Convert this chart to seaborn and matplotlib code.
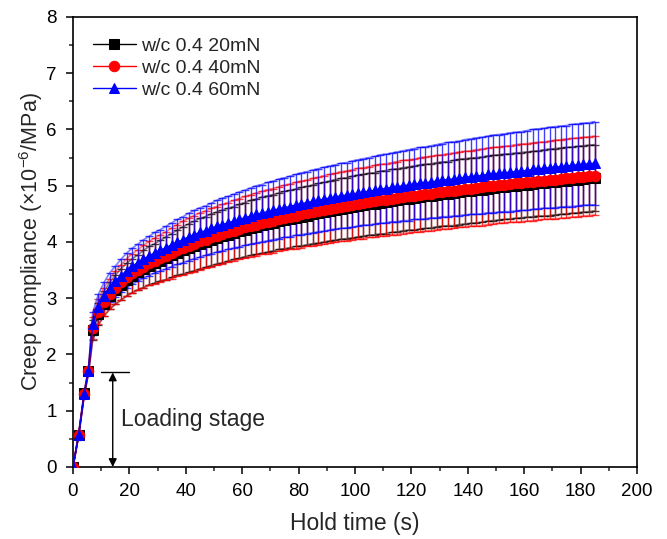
import numpy as np
import pandas as pd
import matplotlib
matplotlib.use("Agg")
import matplotlib.pyplot as plt
import seaborn as sns

# hold time (s)
hold_time = [0, 2, 4, 5.5,
             7, 9, 11, 13, 15, 17, 19, 21, 23, 25, 27, 29, 31, 33, 35, 37, 39, 41,
             43, 45, 47, 49, 51, 53, 55, 57, 59, 61, 63, 65, 67, 69, 71, 73, 75, 77,
             79, 81, 83, 85, 87, 89, 91, 93, 95, 97, 99, 101, 103, 105, 107, 109, 111,
             113, 115, 117, 119, 121, 123, 125, 127, 129, 131, 133, 135, 137, 139, 141,
             143, 145, 147, 149, 151, 153, 155, 157, 159, 161, 163, 165, 167, 169, 171,
             173, 175, 177, 179, 181, 183, 185]

# creep compliance means (x10^-6 /MPa)
mean_20mN = [0.0, 0.57, 1.31, 1.71,
             2.43, 2.72, 2.90, 3.04, 3.15, 3.24, 3.33, 3.40, 3.46, 3.52, 3.58, 3.62, 3.67, 3.71, 3.76, 3.81, 3.85, 3.89,
             3.93, 3.97, 4.00, 4.04, 4.07, 4.10, 4.13, 4.16, 4.19, 4.22, 4.25, 4.27, 4.30, 4.32, 4.34, 4.37, 4.39, 4.41,
             4.43, 4.45, 4.47, 4.49, 4.51, 4.53, 4.55, 4.57, 4.59, 4.60, 4.62, 4.64, 4.65, 4.67, 4.68, 4.70, 4.71,
             4.73, 4.74, 4.76, 4.77, 4.78, 4.80, 4.81, 4.82, 4.84, 4.85, 4.86, 4.87, 4.89, 4.90, 4.91,
             4.92, 4.93, 4.95, 4.96, 4.97, 4.98, 4.99, 5.00, 5.01, 5.02, 5.03, 5.04, 5.05, 5.06, 5.07,
             5.08, 5.09, 5.10, 5.11, 5.12, 5.13, 5.14]
mean_40mN = [0.0, 0.57, 1.30, 1.70,
             2.47, 2.76, 2.94, 3.08, 3.19, 3.28, 3.37, 3.44, 3.50, 3.56, 3.62, 3.66, 3.71, 3.75, 3.80, 3.85, 3.89, 3.93,
             3.97, 4.01, 4.04, 4.08, 4.11, 4.14, 4.17, 4.20, 4.23, 4.26, 4.29, 4.31, 4.34, 4.36, 4.38, 4.41, 4.43, 4.45,
             4.47, 4.49, 4.51, 4.53, 4.55, 4.57, 4.59, 4.61, 4.63, 4.64, 4.66, 4.68, 4.69, 4.71, 4.72, 4.74, 4.75,
             4.77, 4.78, 4.80, 4.81, 4.82, 4.84, 4.85, 4.86, 4.88, 4.89, 4.90, 4.91, 4.93, 4.94, 4.95,
             4.96, 4.97, 4.99, 5.00, 5.01, 5.02, 5.03, 5.04, 5.05, 5.06, 5.07, 5.08, 5.09, 5.10, 5.11,
             5.12, 5.13, 5.14, 5.15, 5.16, 5.17, 5.18]
mean_60mN = [0.0, 0.56, 1.30, 1.71,
             2.55, 2.85, 3.04, 3.19, 3.30, 3.40, 3.49, 3.57, 3.63, 3.70, 3.75, 3.81, 3.85, 3.90, 3.95, 4.00, 4.04, 4.09,
             4.13, 4.17, 4.20, 4.24, 4.28, 4.31, 4.34, 4.37, 4.40, 4.43, 4.46, 4.49, 4.51, 4.54, 4.56, 4.59, 4.61, 4.63,
             4.66, 4.68, 4.70, 4.72, 4.74, 4.76, 4.78, 4.80, 4.82, 4.83, 4.85, 4.87, 4.89, 4.90, 4.92, 4.94, 4.95,
             4.97, 4.98, 5.00, 5.01, 5.03, 5.04, 5.05, 5.07, 5.08, 5.10, 5.11, 5.12, 5.13, 5.15, 5.16,
             5.17, 5.18, 5.20, 5.21, 5.22, 5.23, 5.24, 5.25, 5.26, 5.27, 5.29, 5.30, 5.31, 5.32, 5.33,
             5.34, 5.35, 5.36, 5.37, 5.38, 5.39, 5.40]

# standard deviations
err_20mN = [0.0, 0.02, 0.03, 0.04,
            0.18, 0.20, 0.22, 0.24, 0.26, 0.28, 0.29,
            0.30, 0.31, 0.33, 0.34, 0.35, 0.36, 0.38, 0.39, 0.40, 0.42, 0.43,
            0.44, 0.45, 0.45, 0.46, 0.46, 0.47, 0.47, 0.47, 0.48, 0.48, 0.49, 0.49, 0.50, 0.50,
            0.50, 0.50, 0.51, 0.51, 0.51, 0.52, 0.52, 0.52, 0.53, 0.53, 0.53, 0.54, 0.54, 0.54, 0.55, 0.55,
            0.55, 0.55, 0.55, 0.56, 0.56, 0.56, 0.56, 0.56, 0.56, 0.57, 0.57, 0.57, 0.57, 0.57, 0.57, 0.57,
            0.58, 0.58, 0.58, 0.58, 0.58, 0.58, 0.58, 0.58,
            0.58, 0.58, 0.58, 0.58, 0.58, 0.58, 0.58, 0.58, 0.59, 0.59, 0.59, 0.59, 0.59, 0.59, 0.59, 0.59,
            0.59, 0.59]
err_40mN = [0.0, 0.02, 0.03, 0.04,
            0.20, 0.22, 0.25, 0.27, 0.29, 0.31, 0.33,
            0.35, 0.36, 0.38, 0.39, 0.41, 0.42, 0.43, 0.45, 0.46, 0.48, 0.49,
            0.50, 0.51, 0.51, 0.52, 0.52, 0.53, 0.53, 0.54, 0.54, 0.55, 0.55, 0.56, 0.56, 0.57,
            0.57, 0.57, 0.58, 0.58, 0.59, 0.59, 0.59, 0.60, 0.60, 0.61, 0.61, 0.61, 0.62, 0.62, 0.62, 0.63,
            0.63, 0.63, 0.64, 0.64, 0.64, 0.64, 0.65, 0.65, 0.65, 0.65, 0.66, 0.66, 0.66, 0.66, 0.66, 0.67,
            0.67, 0.67, 0.67, 0.67, 0.68, 0.68, 0.68, 0.68,
            0.68, 0.68, 0.68, 0.69, 0.69, 0.69, 0.69, 0.69, 0.69, 0.69, 0.70, 0.70, 0.70, 0.70, 0.70, 0.70,
            0.70, 0.70]
err_60mN = [0.0, 0.02, 0.03, 0.04,
            0.20, 0.22, 0.24, 0.26, 0.27, 0.29, 0.31,
            0.32, 0.33, 0.34, 0.35, 0.36, 0.37, 0.38, 0.39, 0.40, 0.41, 0.42,
            0.43, 0.44, 0.44, 0.45, 0.46, 0.47, 0.47, 0.48, 0.49, 0.49, 0.50, 0.51, 0.51, 0.52,
            0.52, 0.53, 0.53, 0.54, 0.54, 0.55, 0.55, 0.56, 0.56, 0.57, 0.57, 0.57, 0.58, 0.58, 0.59, 0.59,
            0.59, 0.60, 0.60, 0.61, 0.61, 0.61, 0.62, 0.62, 0.63, 0.63, 0.64, 0.64, 0.64, 0.65, 0.65, 0.66,
            0.66, 0.66, 0.67, 0.67, 0.68, 0.68, 0.68, 0.69,
            0.69, 0.69, 0.70, 0.70, 0.70, 0.71, 0.71, 0.71, 0.71, 0.72, 0.72, 0.72, 0.72, 0.73, 0.73, 0.73,
            0.73, 0.74]

labels = ["w/c 0.4 20mN", "w/c 0.4 40mN", "w/c 0.4 60mN"]
colors = ["black", "red", "blue"]
markers = ["s", "o", "^"]

sns.set_style("ticks")
plt.rcParams["font.family"] = ["Liberation Sans", "DejaVu Sans"]
plt.rcParams["mathtext.fontset"] = "custom"
plt.rcParams["mathtext.rm"] = "Liberation Sans"

fig = plt.figure(figsize=(6.67, 5.39), dpi=100)
ax = fig.add_axes([0.1094, 0.1336, 0.8456, 0.835])

series = [(mean_20mN, err_20mN), (mean_40mN, err_40mN), (mean_60mN, err_60mN)]
frames = []
for (m, e), lab in zip(series, labels):
    frames.append(pd.DataFrame({"t": hold_time, "J": m, "err": e, "load": lab}))
df = pd.concat(frames, ignore_index=True)

for i, lab in enumerate(labels):
    d = df[df["load"] == lab]
    # error bars and the lines joining the caps
    ax.errorbar(d["t"], d["J"], yerr=d["err"], fmt="none", ecolor=colors[i],
                elinewidth=1.0, capsize=2.6, capthick=1.0, alpha=0.75, zorder=2 + i)
    sns.lineplot(x=d["t"], y=d["J"] + d["err"], color=colors[i], lw=1.2, alpha=0.5,
                 ax=ax, zorder=2 + i)
    sns.lineplot(x=d["t"], y=d["J"] - d["err"], color=colors[i], lw=1.2, alpha=0.5,
                 ax=ax, zorder=2 + i)

for i, lab in enumerate(labels):
    d = df[df["load"] == lab]
    sns.lineplot(x=d["t"], y=d["J"], color=colors[i], marker=markers[i], markersize=7.5,
                 markeredgecolor=colors[i], lw=1.0, ax=ax, label=lab, zorder=6 + i)

ax.set_xlim(0, 200)
ax.set_ylim(0, 8)
ax.set_xticks(np.arange(0, 201, 20))
ax.set_xticks(np.arange(0, 201, 10), minor=True)
ax.set_yticks(np.arange(0, 9, 1))
ax.set_yticks(np.arange(0, 8.01, 0.5), minor=True)
ax.tick_params(axis="both", which="major", direction="out", length=5, width=1.1,
               labelsize=13.5, color="black", labelcolor="black", pad=6.5)
ax.tick_params(axis="both", which="minor", direction="out", length=3, width=1.1)
for s in ax.spines.values():
    s.set_linewidth(1.2)
    s.set_color("black")

ax.set_xlabel("Hold time (s)", fontsize=16.5, labelpad=9)
ax.set_ylabel("Creep compliance ($\\times$10$^{-6}$/MPa)", fontsize=15.5, labelpad=1)

# loading stage marker
ax.annotate("", xy=(14.1, 0.0), xytext=(14.1, 1.68),
            arrowprops=dict(arrowstyle="<|-|>", color="black", lw=1.0,
                            shrinkA=0, shrinkB=0, mutation_scale=12))
ax.plot([9.8, 19.9], [1.68, 1.68], color="black", lw=1.0)
ax.text(17.0, 0.84, "Loading stage", fontsize=16.5, va="center", ha="left")

leg = ax.legend(loc="upper left", bbox_to_anchor=(0.011, 0.985), frameon=False,
                fontsize=14, handlelength=2.2, handletextpad=0.3, labelspacing=0.22,
                borderaxespad=0.3)

fig.savefig("out.png", dpi=100)
